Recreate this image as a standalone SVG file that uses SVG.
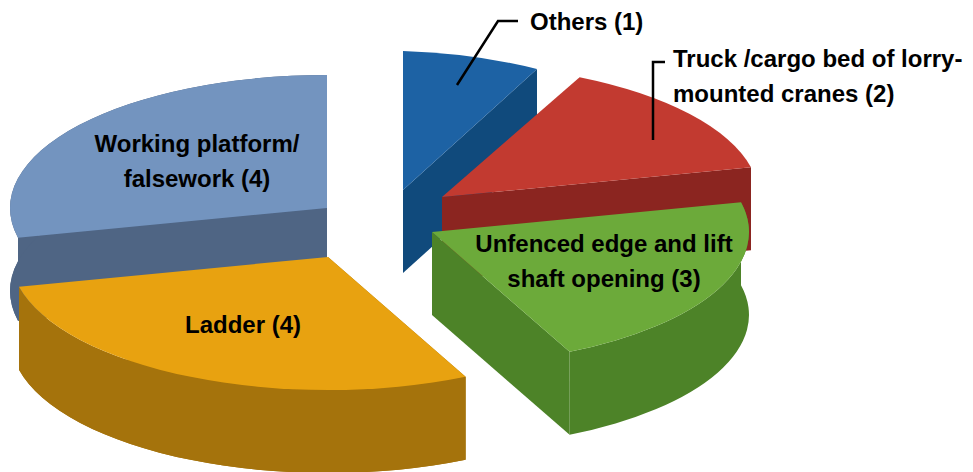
<svg xmlns="http://www.w3.org/2000/svg" width="973" height="472" viewBox="0 0 973 472">
  <style>
    .lbl { font-family: "Liberation Sans", Arial, sans-serif; font-weight: bold; font-size: 24px; fill: #000; }
    .mid { text-anchor: middle; }
    .lead { fill: none; stroke: #000; stroke-width: 2.5; }
  </style>
  <rect width="973" height="472" fill="#fff"/>

  <g id="slice-working-platform">
    <g fill="#4F6584">
      <path d="M327,291 L18,320.7 A317,133 0 0,1 327,158 Z"/>
      <path d="M327,208 L18,237.7 L18,320.7 L327,291 Z"/>
      <path d="M18,237.7 A317,133 0 0,1 327,75 L327,158 A317,133 0 0,0 18,320.7 Z"/>
    </g>
    <path fill="#7394BF" d="M327,208 L18,237.7 A317,133 0 0,1 327,75 Z"/>
    <text class="lbl mid" x="197" y="152">Working platform/</text>
    <text class="lbl mid" x="197" y="187">falsework (4)</text>
  </g>

  <g id="slice-others">
    <path fill="#104A7C" d="M403,190 L537,69 L537,152 L403,273 Z"/>
    <path fill="#1D62A4" d="M403,190 L403,51 A317,140 0 0,1 537,69 Z"/>
  </g>

  <g id="slice-truck">
    <path fill="#8B2520" d="M442,197 L751,167.3 L751,250.3 L442,280 Z"/>
    <path fill="#C23A30" d="M442,197 L579.6,77.2 A317,133 0 0,1 751,167.3 Z"/>
  </g>

  <g id="slice-unfenced">
    <g fill="#4D8328">
      <path d="M432,232 L569.6,351.8 L569.6,434.8 L432,315 Z"/>
      <path d="M741,202.3 A317,133 0 0,1 569.6,351.8 L569.6,434.8 A317,133 0 0,0 741,285.3 Z"/>
    </g>
    <path fill="#6CAA3A" d="M432,232 L741,202.3 A317,133 0 0,1 569.6,351.8 Z"/>
    <text class="lbl mid" x="604" y="252">Unfenced edge and lift</text>
    <text class="lbl mid" x="604" y="287">shaft opening (3)</text>
  </g>

  <g id="slice-ladder">
    <g fill="#A5730C">
      <path d="M328,340 L465.6,459.8 A317,133 0 0,1 19,369.7 Z"/>
      <path d="M328,257 L465.6,376.8 L465.6,459.8 L328,340 Z"/>
      <path d="M465.6,376.8 A317,133 0 0,1 19,286.7 L19,369.7 A317,133 0 0,0 465.6,459.8 Z"/>
    </g>
    <path fill="#E8A210" d="M328,257 L465.6,376.8 A317,133 0 0,1 19,286.7 Z"/>
    <text class="lbl mid" x="243" y="333">Ladder (4)</text>
  </g>

  <g id="connectors">
    <polyline class="lead" points="457,85 498,21 518,21"/>
    <polyline class="lead" points="653,140 653,62 665,62"/>
  </g>

  <g id="label-others">
    <text class="lbl" x="530" y="30">Others (1)</text>
  </g>
  <g id="label-truck">
    <text class="lbl" x="673" y="67">Truck /cargo bed of lorry-</text>
    <text class="lbl" x="673" y="102">mounted cranes (2)</text>
  </g>
</svg>
